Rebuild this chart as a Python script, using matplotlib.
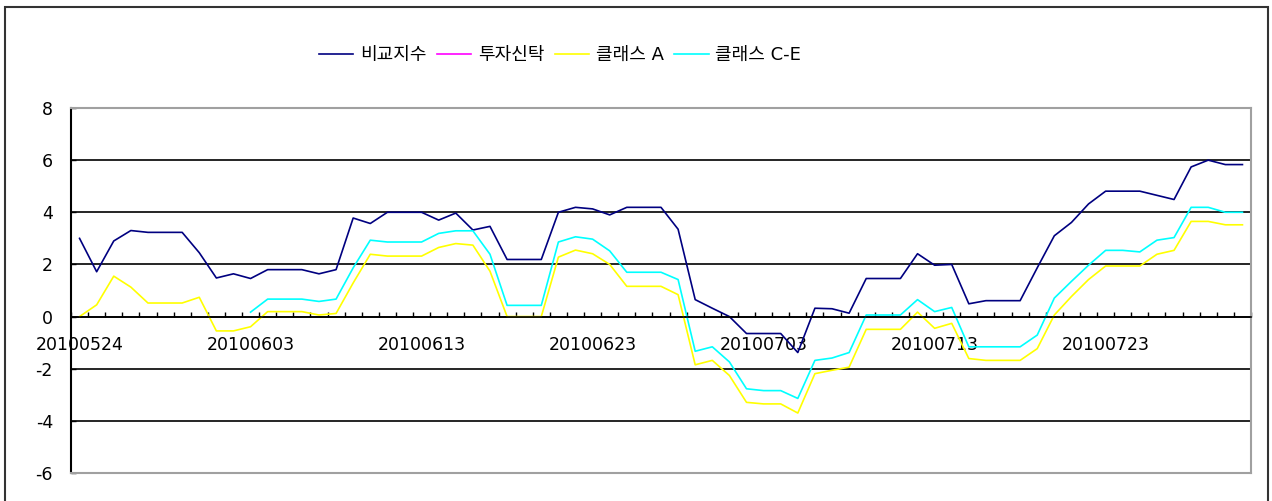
import matplotlib
matplotlib.use('Agg')
import matplotlib.pyplot as plt
import numpy as np
import pandas as pd
from matplotlib.patches import Rectangle

plt.rcParams['font.family'] = ['DejaVu Sans', 'Noto Sans CJK KR']

# 일자 (2010-05-24 ~ 2010-07-31)
dates = pd.date_range('2010-05-24', '2010-07-31').strftime('%Y%m%d').tolist()
label_every = 10

# 비교지수
bench = [3.0, 1.72, 2.9, 3.3, 3.23, 3.23, 3.23, 2.45, 1.48, 1.64,
         1.46, 1.8, 1.8, 1.8, 1.64, 1.8, 3.78, 3.57, 4.0, 4.0,
         4.0, 3.7, 3.97, 3.32, 3.46, 2.19, 2.19, 2.19, 4.0, 4.19,
         4.13, 3.9, 4.19, 4.19, 4.19, 3.35, 0.65, 0.32, 0.0, -0.65,
         -0.65, -0.65, -1.38, 0.32, 0.3, 0.13, 1.46, 1.46, 1.46, 2.41,
         1.97, 2.0, 0.49, 0.61, 0.61, 0.61, 1.87, 3.1, 3.61, 4.32,
         4.81, 4.81, 4.81, 4.65, 4.49, 5.74, 6.0, 5.83, 5.83]

# 투자신탁 (표시되는 값 없음)
trust = []

# 클래스 A
class_a = [0.0, 0.45, 1.55, 1.13, 0.52, 0.52, 0.52, 0.74, -0.55, -0.55,
           -0.39, 0.19, 0.19, 0.19, 0.06, 0.12, 1.29, 2.39, 2.32, 2.32,
           2.32, 2.65, 2.8, 2.74, 1.74, 0.0, 0.0, 0.0, 2.28, 2.55,
           2.41, 2.0, 1.16, 1.16, 1.16, 0.84, -1.85, -1.68, -2.26, -3.29,
           -3.35, -3.35, -3.7, -2.19, -2.06, -1.94, -0.49, -0.49, -0.49, 0.17,
           -0.45, -0.26, -1.61, -1.68, -1.68, -1.68, -1.23, 0.06, 0.77, 1.42,
           1.94, 1.94, 1.94, 2.39, 2.54, 3.65, 3.65, 3.52, 3.52]

# 클래스 C-E
class_ce = [None, None, None, None, None, None, None, None, None, None,
            0.17, 0.67, 0.67, 0.67, 0.58, 0.67, 1.87, 2.93, 2.86, 2.86,
            2.86, 3.19, 3.29, 3.29, 2.39, 0.43, 0.43, 0.43, 2.86, 3.06,
            2.97, 2.52, 1.7, 1.7, 1.7, 1.42, -1.33, -1.16, -1.74, -2.77,
            -2.84, -2.84, -3.14, -1.68, -1.59, -1.38, 0.06, 0.06, 0.06, 0.65,
            0.19, 0.35, -1.16, -1.16, -1.16, -1.16, -0.71, 0.71, 1.35, 1.97,
            2.54, 2.54, 2.48, 2.93, 3.03, 4.19, 4.19, 4.0, 4.0]

y_ticks = [-6, -4, -2, 0, 2, 4, 6, 8]

W, H = 1272, 501
fig = plt.figure(figsize=(W / 100, H / 100), dpi=100)
ax = fig.add_axes([71 / W, 1 - 473 / H, (1251 - 71) / W, (473 - 108) / H])

x = np.arange(len(dates))
ax.plot(x, bench, color='#000080', lw=1.2, label='비교지수')
ax.plot(x[:len(trust)], trust, color='#FF00FF', lw=1.2, label='투자신탁')
ax.plot(x, np.array(class_a, dtype=float), color='#FFFF00', lw=1.2, label='클래스 A')
ax.plot(x, np.array(class_ce, dtype=float), color='#00FFFF', lw=1.2, label='클래스 C-E')

ax.set_xlim(-0.5, len(dates) - 0.5)
ax.set_ylim(y_ticks[0], y_ticks[-1])

# 눈금선 (안쪽 값만 검정)
for v in y_ticks[1:-1]:
    ax.axhline(v, color='black', lw=1.2, zorder=0.5)

# 축/테두리
for s in ['top', 'right']:
    ax.spines[s].set_color('#a0a0a0')
    ax.spines[s].set_linewidth(1.5)
ax.spines['left'].set_color('black')
ax.spines['left'].set_linewidth(1.5)
ax.spines['bottom'].set_position(('data', 0))
ax.spines['bottom'].set_color('black')
ax.spines['bottom'].set_linewidth(1.2)
ax.plot([0, 1], [0, 0], transform=ax.transAxes, color='#a0a0a0', lw=1.5,
        clip_on=False, zorder=3)

ax.set_yticks(y_ticks)
ax.set_yticklabels([str(v) for v in y_ticks])
ax.tick_params(axis='y', direction='in', length=3.5, width=1, pad=13,
               labelsize=12.5)

ax.set_xticks(np.arange(len(dates) + 1) - 0.5)
ax.set_xticklabels([])
ax.tick_params(axis='x', which='major', direction='in', length=3.5, width=1)
ax.set_xticks(x[::label_every], minor=True)
ax.set_xticklabels(dates[::label_every], minor=True)
ax.tick_params(axis='x', which='minor', length=0, pad=14, labelsize=12.5)

leg = fig.legend(loc='center', bbox_to_anchor=(560 / W, 1 - 55 / H), ncol=4,
                 frameon=False, fontsize=13, handlelength=1.9,
                 handletextpad=0.35, columnspacing=0.6)

# 바깥 테두리
fig.patches.append(Rectangle((5 / W, -0.1), (1268 - 5) / W, 1.1 - 7 / H,
                             transform=fig.transFigure, fill=False,
                             edgecolor='#333333', lw=1.5))

fig.savefig('out.png', dpi=100)
